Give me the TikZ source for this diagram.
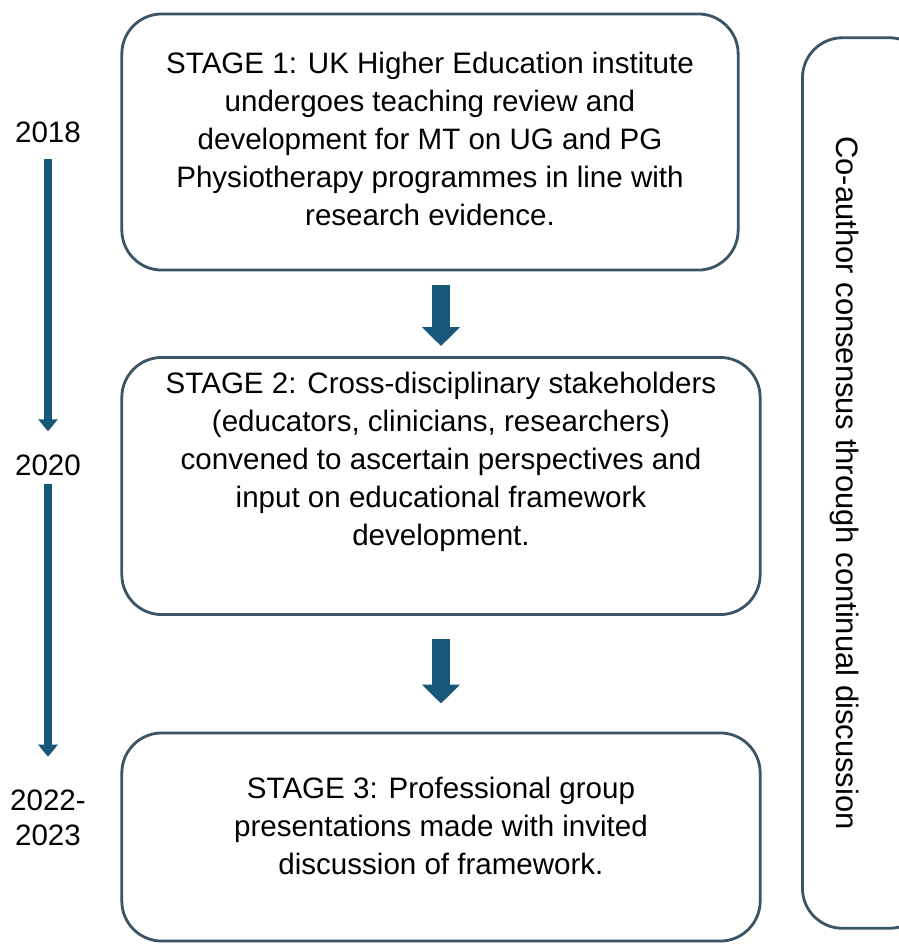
\documentclass[tikz,border=0pt]{standalone}
\usepackage{fontspec}
\setmainfont{Liberation Sans}
\usetikzlibrary{arrows.meta,positioning}

\definecolor{arrowBlue}{RGB}{24,88,122}
\definecolor{boxEdge}{RGB}{60,84,100}

\tikzset{
  stageBox/.style={draw=boxEdge,line width=0.8pt,rounded corners=0.4cm,inner sep=0pt},
  stageText/.style={align=center,inner sep=0pt,font=\fontsize{8.4}{10.85}\selectfont},
  yearLabel/.style={align=center,inner sep=0pt,font=\fontsize{8.4}{10}\selectfont},
  flowArrow/.style={arrowBlue,line width=0.17cm,-{Triangle[width=0.37cm,length=0.19cm]}},
  timeArrow/.style={arrowBlue,line width=0.08cm,-{Triangle[width=0.19cm,length=0.12cm]}}
}

\begin{document}
\begin{tikzpicture}[x=0.01cm,y=-0.01cm]
    \useasboundingbox (0,0) rectangle (899,944);

    % stage boxes
    \node[stageBox,minimum width=6.16cm,minimum height=2.56cm] (stage1) at (430,142) {};
    \node[stageBox,minimum width=6.38cm,minimum height=2.57cm] (stage2) at (441,486) {};
    \node[stageBox,minimum width=6.38cm,minimum height=2.08cm] (stage3) at (441,837) {};

    \node[stageText] (stage1Text) at (430,139) {STAGE 1: UK Higher Education institute\\undergoes teaching review and\\development for MT on UG and PG\\Physiotherapy programmes in line with\\research evidence.};
    \node[stageText] (stage2Text) at (441,462) {STAGE 2: Cross-disciplinary stakeholders\\(educators, clinicians, researchers)\\convened to ascertain perspectives and\\input on educational framework\\development.};
    \node[stageText] (stage3Text) at (441,826) {STAGE 3: Professional group\\presentations made with invited\\discussion of framework.};

    \draw[flowArrow,shorten <=0.13cm,shorten >=0.10cm] (stage1.south -| stage2) -- (stage2.north);
    \draw[flowArrow,shorten <=0.23cm,shorten >=0.28cm] (stage2.south) -- (stage3.north);

    % time line on the left
    \node[yearLabel] (year2018) at (48,132) {2018};
    \node[yearLabel] (year2020) at (48,465) {2020};
    \node[yearLabel] (year2022) at (48,818) {2022-\\2023};

    \draw[timeArrow,shorten <=0.155cm,shorten >=0.225cm] (year2018.south) -- (year2020.north);
    \draw[timeArrow,shorten <=0.075cm,shorten >=0.325cm] (year2020.south) -- (year2022.north);

    % side box
    \node[stageBox,minimum width=1.27cm,minimum height=8.9cm] (sideBox) at (866,483) {};
    \node[stageText,rotate=-90,font=\fontsize{8.8}{10.8}\selectfont] (sideText) at (845,483) {Co-author consensus through continual discussion};
\end{tikzpicture}
\end{document}
